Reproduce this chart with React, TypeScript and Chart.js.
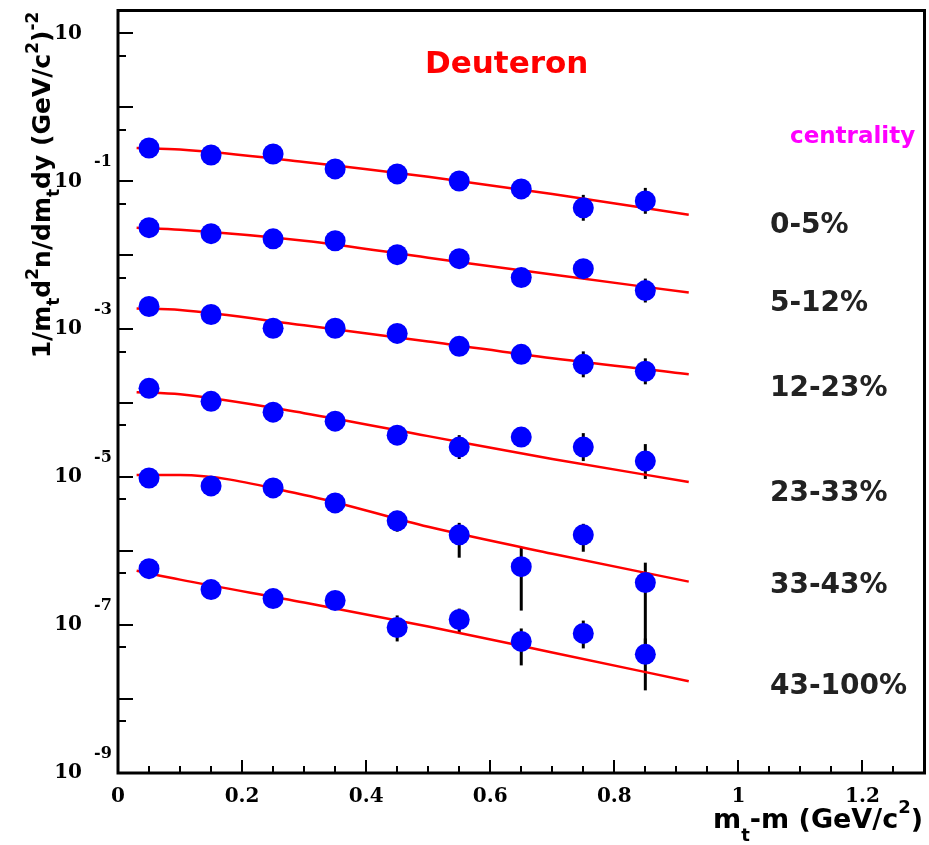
import React, { useEffect, useRef } from 'react';
import { Chart, registerables } from 'chart.js';

Chart.register(...registerables);

// ---- data ----
const mtBins = [0.05, 0.15, 0.25, 0.35, 0.45, 0.55, 0.65, 0.75, 0.85];
const centralityLabels = ['0-5%', '5-12%', '12-23%', '23-33%', '33-43%', '43-100%'];

const yield0to5 = [0.282, 0.227, 0.234, 0.147, 0.126, 0.101, 0.079, 0.0438, 0.0544];
const yield5to12 = [0.0236, 0.0196, 0.0167, 0.0157, 0.0102, 0.009, 0.00499, 0.0066, 0.00333];
const yield12to23 = [0.00203, 0.00158, 0.00103, 0.00103, 0.000878, 0.000587, 0.000458, 0.000335, 0.00027];
const yield23to33 = [1.59e-4, 1.06e-4, 7.56e-5, 5.72e-5, 3.7e-5, 2.55e-5, 3.48e-5, 2.55e-5, 1.65e-5];
const yield33to43 = [9.75e-6, 7.61e-6, 7.15e-6, 4.49e-6, 2.57e-6, 1.66e-6, 6.16e-7, 1.66e-6, 3.75e-7];
const yield43to100 = [5.79e-7, 3.02e-7, 2.28e-7, 2.15e-7, 9.28e-8, 1.19e-7, 6.01e-8, 7.71e-8, 4.02e-8];

// error bars: [low, high] or null
const err0to5 = [null, null, null, null, null, null, null, [0.0293, 0.0656], [0.0364, 0.0815]];
const err5to12 = [null, null, null, null, null, null, null, null, [0.0023, 0.00484]];
const err12to23 = [null, null, null, null, null, null, null, [0.000224, 0.000502], [0.00018, 0.000404]];
const err23to33 = [null, null, null, null, null, [1.76e-5, 3.7e-5], null, [1.65e-5, 3.94e-5], [9.46e-6, 2.8e-5]];
const err33to43 = [null, null, null, null, [1.83e-6, 3.5e-6], [8.15e-7, 2.41e-6], [1.57e-7, 1.11e-6], [9.81e-7, 2.34e-6], [5.31e-8, 6.98e-7]];
const err43to100 = [null, null, null, null, [6.01e-8, 1.35e-7], [7.95e-8, 1.67e-7], [2.85e-8, 9.0e-8], [4.84e-8, 1.15e-7], [1.31e-8, 6.6e-8]];

// fit curves
const fitX = [0.03, 0.1, 0.3, 0.5, 0.7, 0.92];
const fit0to5 = [0.282, 0.269, 0.183, 0.115, 0.0676, 0.0353];
const fit5to12 = [0.0236, 0.0221, 0.0157, 0.00928, 0.00548, 0.00313];
const fit12to23 = [0.00191, 0.00182, 0.00113, 0.000685, 0.000404, 0.000246];
const fit23to33 = [1.41e-4, 1.32e-4, 7.33e-5, 3.59e-5, 1.76e-5, 8.62e-6];
const fit33to43 = [1.07e-5, 1.07e-5, 5.75e-6, 2.13e-6, 9.22e-7, 3.87e-7];
const fit43to100 = [5.44e-7, 4.12e-7, 2.02e-7, 9.57e-8, 4.27e-8, 1.74e-8];

// axis ticks
const xLabelTicks = [0, 0.2, 0.4, 0.6, 0.8, 1, 1.2];
const xMinorStep = 0.05;
const xTickMax = 1.25;
const yDecadeExponents = [1, 0, -1, -2, -3, -4, -5, -6, -7, -8, -9];
const yLabelExponents = [1, -1, -3, -5, -7, -9];

const seriesYields = [yield0to5, yield5to12, yield12to23, yield23to33, yield33to43, yield43to100];
const seriesErrors = [err0to5, err5to12, err12to23, err23to33, err33to43, err43to100];
const seriesFits = [fit0to5, fit5to12, fit12to23, fit23to33, fit33to43, fit43to100];

// label baselines (layout)
const labelBaselines = [233, 311, 396, 501, 593, 694];
// canvas is drawn slightly wider than the visible page box; the extra strip is clipped
const CANVAS_W = 935;

type Part = { t: string; size: number; dy: number };

function richWidth(ctx: CanvasRenderingContext2D, parts: Part[]) {
  let w = 0;
  for (const p of parts) {
    ctx.font = `bold ${p.size}px "DejaVu Sans"`;
    w += ctx.measureText(p.t).width;
  }
  return w;
}

function drawRich(ctx: CanvasRenderingContext2D, parts: Part[], x: number, y: number) {
  let cx = x;
  for (const p of parts) {
    ctx.font = `bold ${p.size}px "DejaVu Sans"`;
    ctx.fillText(p.t, cx, y + p.dy);
    cx += ctx.measureText(p.t).width;
  }
}

const isDecade = (v: number) => {
  const e = Math.log10(v);
  return Math.abs(e - Math.round(e)) < 1e-6;
};

const rootStylePlugin = {
  id: 'rootStyle',
  beforeDatasetsDraw(chart: any) {
    const { ctx } = chart;
    const x = chart.scales.x;
    const y = chart.scales.y;
    ctx.save();
    ctx.strokeStyle = '#000';
    ctx.lineWidth = 3;
    seriesErrors.forEach((errs) => {
      errs.forEach((e: any, i: number) => {
        if (!e) return;
        const px = x.getPixelForValue(mtBins[i]);
        ctx.beginPath();
        ctx.moveTo(px, y.getPixelForValue(e[0]));
        ctx.lineTo(px, y.getPixelForValue(e[1]));
        ctx.stroke();
      });
    });
    ctx.restore();
  },
  afterDraw(chart: any) {
    const { ctx, chartArea } = chart;
    const { left, right, top, bottom } = chartArea;
    const x = chart.scales.x;
    const y = chart.scales.y;
    ctx.save();
    // frame
    ctx.strokeStyle = '#000';
    ctx.lineWidth = 3;
    ctx.strokeRect(left, top, right - left, bottom - top);
    // inward ticks
    ctx.lineWidth = 2;
    y.ticks.forEach((t: any) => {
      const py = Math.round(y.getPixelForValue(t.value));
      const len = isDecade(t.value) ? 15 : 8;
      ctx.beginPath();
      ctx.moveTo(left, py);
      ctx.lineTo(left + len, py);
      ctx.stroke();
    });
    x.ticks.forEach((t: any) => {
      if (t.value <= 0) return;
      const px = Math.round(x.getPixelForValue(t.value));
      const major = xLabelTicks.some((m) => Math.abs(m - t.value) < 1e-6);
      const len = major ? 13 : 7;
      ctx.beginPath();
      ctx.moveTo(px, bottom);
      ctx.lineTo(px, bottom - len);
      ctx.stroke();
    });
    // exponents of y tick labels
    ctx.fillStyle = '#000';
    ctx.font = 'bold 16px "DejaVu Serif"';
    ctx.textAlign = 'left';
    ctx.textBaseline = 'middle';
    yLabelExponents.forEach((e) => {
      if (e === 1) return;
      const py = y.getPixelForValue(Math.pow(10, e));
      ctx.fillText(String(e), 94, py - 19);
    });
    // title
    ctx.textBaseline = 'alphabetic';
    ctx.fillStyle = '#ff0000';
    ctx.font = 'bold 31px "DejaVu Sans"';
    ctx.fillText('Deuteron', 425, 73);
    // centrality header
    ctx.fillStyle = '#ff00ff';
    ctx.font = 'bold 23px "DejaVu Sans"';
    ctx.fillText('centrality', 790, 143);
    // class labels
    ctx.fillStyle = '#222';
    ctx.font = 'bold 28px "DejaVu Sans"';
    centralityLabels.forEach((lab, i) => {
      ctx.fillText(lab, 770, labelBaselines[i]);
    });
    // x title
    ctx.fillStyle = '#000';
    const xParts: Part[] = [
      { t: 'm', size: 27, dy: 0 },
      { t: 't', size: 18, dy: 13 },
      { t: '-m (GeV/c', size: 27, dy: 0 },
      { t: '2', size: 18, dy: -15 },
      { t: ')', size: 27, dy: 0 },
    ];
    const xw = richWidth(ctx, xParts);
    drawRich(ctx, xParts, 923 - xw, 828);
    // y title
    const yParts: Part[] = [
      { t: '1/m', size: 25, dy: 0 },
      { t: 't', size: 17, dy: 9 },
      { t: 'd', size: 25, dy: 0 },
      { t: '2', size: 17, dy: -12 },
      { t: 'n/dm', size: 25, dy: 0 },
      { t: 't', size: 17, dy: 9 },
      { t: 'dy (GeV/c', size: 25, dy: 0 },
      { t: '2', size: 17, dy: -12 },
      { t: ')', size: 25, dy: 0 },
      { t: '-2', size: 17, dy: -12 },
    ];
    const yw = richWidth(ctx, yParts);
    ctx.translate(50, 185 + yw / 2);
    ctx.rotate(-Math.PI / 2);
    drawRich(ctx, yParts, 0, 0);
    ctx.restore();
  },
};

export default function App() {
  const canvasRef = useRef<HTMLCanvasElement | null>(null);

  useEffect(() => {
    const canvas = canvasRef.current;
    if (!canvas) return;

    const pointSets = seriesYields.map((ys, si) => ({
      label: centralityLabels[si],
      data: mtBins.map((xv, i) => ({ x: xv, y: ys[i] })),
      showLine: false,
      pointRadius: 10.5,
      pointBackgroundColor: '#0000ff',
      pointBorderWidth: 0,
      pointBorderColor: '#0000ff',
      order: 1,
    }));
    const fitSets = seriesFits.map((fs, si) => ({
      label: 'fit ' + centralityLabels[si],
      data: fitX.map((xv, i) => ({ x: xv, y: fs[i] })),
      showLine: true,
      borderColor: '#ff0000',
      borderWidth: 2.5,
      pointRadius: 0,
      cubicInterpolationMode: 'monotone',
      fill: false,
      order: 2,
    }));

    const chart = new Chart(canvas, {
      type: 'scatter',
      data: { datasets: [...pointSets, ...fitSets] as any },
      options: {
        animation: false,
        responsive: false,
        maintainAspectRatio: false,
        events: [],
        devicePixelRatio: 1,
        layout: { padding: { top: 8, right: 5, left: 0, bottom: 0 } },
        plugins: { legend: { display: false }, tooltip: { enabled: false }, title: { display: false } },
        scales: {
          x: {
            type: 'linear',
            min: 0,
            max: 1.3,
            bounds: 'data',
            grid: {
              display: true,
              drawOnChartArea: false,
              drawTicks: true,
              tickLength: 12,
              color: 'rgba(0,0,0,0)',
            },
            border: { display: false },
            afterFit: (s: any) => {
              s.height = 72;
            },
            afterBuildTicks: (s: any) => {
              const ticks = [];
              for (let k = 0; k * xMinorStep <= xTickMax + 1e-9; k++) {
                ticks.push({ value: Math.round(k * xMinorStep * 100) / 100 });
              }
              s.ticks = ticks;
            },
            ticks: {
              autoSkip: false,
              maxRotation: 0,
              padding: 0,
              color: '#000',
              font: { family: 'DejaVu Serif', weight: 'bold', size: 20 },
              callback: (v: any) => {
                const r = Math.round(Number(v) * 100) / 100;
                return xLabelTicks.some((m) => Math.abs(m - r) < 1e-6) ? String(r) : '';
              },
            },
          },
          y: {
            type: 'logarithmic',
            min: 1e-9,
            max: 20.4,
            bounds: 'data',
            grid: {
              display: true,
              drawOnChartArea: false,
              drawTicks: true,
              tickLength: 36,
              color: 'rgba(0,0,0,0)',
            },
            border: { display: false },
            afterFit: (s: any) => {
              s.width = 118;
            },
            afterBuildTicks: (s: any) => {
              const ticks: any[] = [];
              yDecadeExponents.forEach((e) => {
                ticks.push({ value: Math.pow(10, e) });
                if (e <= 0) ticks.push({ value: 5 * Math.pow(10, e) });
              });
              s.ticks = ticks;
            },
            ticks: {
              autoSkip: false,
              padding: 0,
              color: '#000',
              font: { family: 'DejaVu Serif', weight: 'bold', size: 20, lineHeight: 0.6 },
              callback: (v: any) => {
                const n = Number(v);
                if (!isDecade(n)) return '';
                const e = Math.round(Math.log10(n));
                return yLabelExponents.includes(e) ? '10' : '';
              },
            },
          },
        },
      },
      plugins: [rootStylePlugin],
    } as any);

    return () => {
      chart.destroy();
    };
  }, []);

  return (
    <div style={{ position: 'fixed', left: 0, top: 0, width: 929, height: 845, overflow: 'hidden', background: '#fff' }}>
      <canvas ref={canvasRef} width={CANVAS_W} height={845} style={{ display: 'block', width: CANVAS_W, height: 845 }} />
    </div>
  );
}
